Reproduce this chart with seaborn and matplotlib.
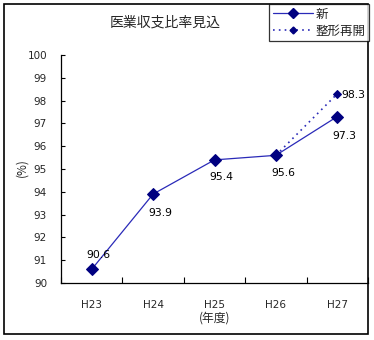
import matplotlib
matplotlib.use("Agg")
import matplotlib.pyplot as plt
from matplotlib.patches import Rectangle
from matplotlib.lines import Line2D
import seaborn as sns
import pandas as pd

# Fiscal years and projected ratios
years = ["H23", "H24", "H25", "H26", "H27"]
new_plan = [90.6, 93.9, 95.4, 95.6, 97.3]
resume_years = ["H26", "H27"]
resume_plan = [95.6, 98.3]
y_ticks = [90, 91, 92, 93, 94, 95, 96, 97, 98, 99, 100]

sns.set_theme(style="white")
plt.rcParams["font.family"] = ["Noto Sans CJK JP", "DejaVu Sans"]

NAVY = "#000080"
LINE = "#2a2ab8"

fig = plt.figure(figsize=(3.74, 3.40), dpi=100)
ax = fig.add_axes([61 / 374, 57 / 340, (368 - 61) / 374, (283 - 55) / 340])

pos = {y: i for i, y in enumerate(years)}
df_new = pd.DataFrame({"x": [pos[y] for y in years], "v": new_plan})
df_res = pd.DataFrame({"x": [pos[y] for y in resume_years], "v": resume_plan})

sns.lineplot(data=df_res, x="x", y="v", ax=ax, color=LINE, linestyle=(0, (1, 2.5)),
             linewidth=1.2, marker="D", markersize=4, markerfacecolor=NAVY,
             markeredgecolor=NAVY, sort=False)
sns.lineplot(data=df_new, x="x", y="v", ax=ax, color=LINE, linewidth=0.9,
             marker="D", markersize=6.5, markerfacecolor=NAVY,
             markeredgecolor=NAVY, sort=False)

# Value labels
offsets = [(7, 14), (7, -19), (7, -17), (7, -18), (7, -19)]
for i, (v, off) in enumerate(zip(new_plan, offsets)):
    ax.annotate(f"{v:.1f}", (pos[years[i]], v), xytext=off, textcoords="offset pixels",
                ha="center", va="center", fontsize=7.8, color="black",
                family=["DejaVu Sans"])
ax.annotate(f"{resume_plan[-1]:.1f}", (pos[resume_years[-1]], resume_plan[-1]),
            xytext=(16, -1), textcoords="offset pixels", ha="center", va="center",
            fontsize=7.8, color="black", family=["DejaVu Sans"])

ax.set_xlim(-0.5, len(years) - 0.5)
ax.set_ylim(90, 100)
ax.set_yticks(y_ticks)
ax.set_yticklabels([str(t) for t in y_ticks], fontsize=7.5, family=["DejaVu Sans"])
ax.set_xticks(range(len(years)))
ax.set_xticklabels(years, fontsize=7.5, family=["DejaVu Sans"])
ax.set_xticks([i - 0.5 for i in range(len(years) + 1)], minor=True)
ax.tick_params(axis="x", which="major", length=0, pad=12)
ax.tick_params(axis="x", which="minor", direction="in", length=4, width=0.8,
               color="black", bottom=True)
ax.tick_params(axis="y", which="major", direction="in", length=3, width=0.8,
               color="black", left=True, pad=10)
ax.set_xlabel("")
ax.set_ylabel("")
for side in ["top", "right"]:
    ax.spines[side].set_visible(False)
for side in ["left", "bottom"]:
    ax.spines[side].set_color("black")
    ax.spines[side].set_linewidth(0.9)
ax.patch.set_alpha(0)

fig.text(22 / 374, 1 - 168 / 340, "(%)", rotation=90, ha="center", va="center", fontsize=8.5)
fig.text(215 / 374, 1 - 318 / 340, "(年度)", ha="center", va="center", fontsize=8.5)
fig.text(165 / 374, 1 - 22 / 340, "医業収支比率見込", ha="center", va="center", fontsize=10)

handles = [
    Line2D([], [], color=LINE, linewidth=0.9, marker="D", markersize=5.5,
           markerfacecolor=NAVY, markeredgecolor=NAVY),
    Line2D([], [], color=LINE, linewidth=1.2, linestyle=(0, (1, 2.5)), marker="D",
           markersize=3.5, markerfacecolor=NAVY, markeredgecolor=NAVY),
]
leg = fig.legend(handles, ["新", "整形再開"], loc="upper right",
                 bbox_to_anchor=(369 / 374, 1 - 4 / 340), frameon=True, fancybox=False,
                 fontsize=9, borderaxespad=0, handlelength=3.2, handletextpad=0.2,
                 borderpad=0.3, labelspacing=0.3)
leg.get_frame().set_edgecolor("black")
leg.get_frame().set_linewidth(0.9)

# Outer chart border
fig.add_artist(Rectangle((4 / 374, 6 / 340), (368 - 4) / 374, (336 - 6) / 340,
                         transform=fig.transFigure, fill=False, edgecolor="black",
                         linewidth=1.2))

fig.savefig("out.png", dpi=100)
